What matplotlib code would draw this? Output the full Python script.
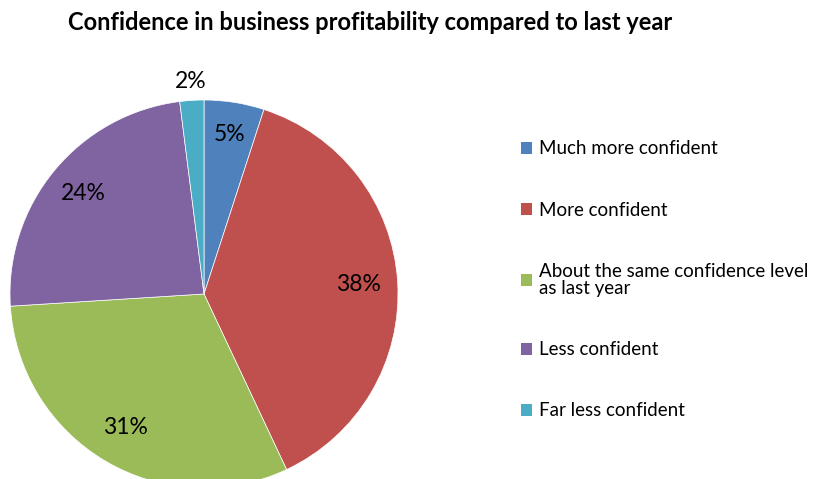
import numpy as np
import matplotlib.pyplot as plt
from matplotlib.patches import Patch

plt.rcParams['font.family'] = ['Lato', 'DejaVu Sans']

categories = ['Much more confident', 'More confident',
              'About the same confidence level\nas last year',
              'Less confident', 'Far less confident']
shares = [5, 38, 31, 24, 2]
colors = ['#4F81BD', '#C0504D', '#9BBB59', '#8064A2', '#4BACC6']
label_dist = [0.83, 0.8, 0.8, 0.81, 1.1]

W, H = 817, 479
fig = plt.figure(figsize=(W / 100, H / 100), dpi=100)

# pie centre / radius in pixels
cx, cy, r = 204, 294, 194
ax = fig.add_axes([(cx - r) / W, (H - cy - r) / H, 2 * r / W, 2 * r / H])
wedges, _ = ax.pie(shares, colors=colors, startangle=90, counterclock=False,
                   wedgeprops=dict(linewidth=0.5, edgecolor='white'))
ax.set_xlim(-1, 1)
ax.set_ylim(-1, 1)
ax.set_aspect('equal')
ax.axis('off')

for w, v, d in zip(wedges, shares, label_dist):
    ang = np.deg2rad((w.theta1 + w.theta2) / 2)
    ax.text(d * np.cos(ang), d * np.sin(ang), f'{v}%', ha='center', va='center',
            fontsize=16.5, color='black')

fig.text(370 / W, 1 - 22 / H, 'Confidence in business profitability compared to last year',
         ha='center', va='center', fontsize=17, fontweight='bold')

handles = [Patch(facecolor=c, edgecolor='none') for c in colors]
leg = fig.legend(handles, categories, loc='upper left', bbox_to_anchor=(513 / W, 1 - 133 / H),
                 frameon=False, fontsize=13.5, handlelength=0.6, handleheight=0.6,
                 handletextpad=0.4, labelspacing=2.35, borderaxespad=0)
for t in leg.get_texts():
    t.set_linespacing(1.05)

fig.savefig('out.png', dpi=100)
